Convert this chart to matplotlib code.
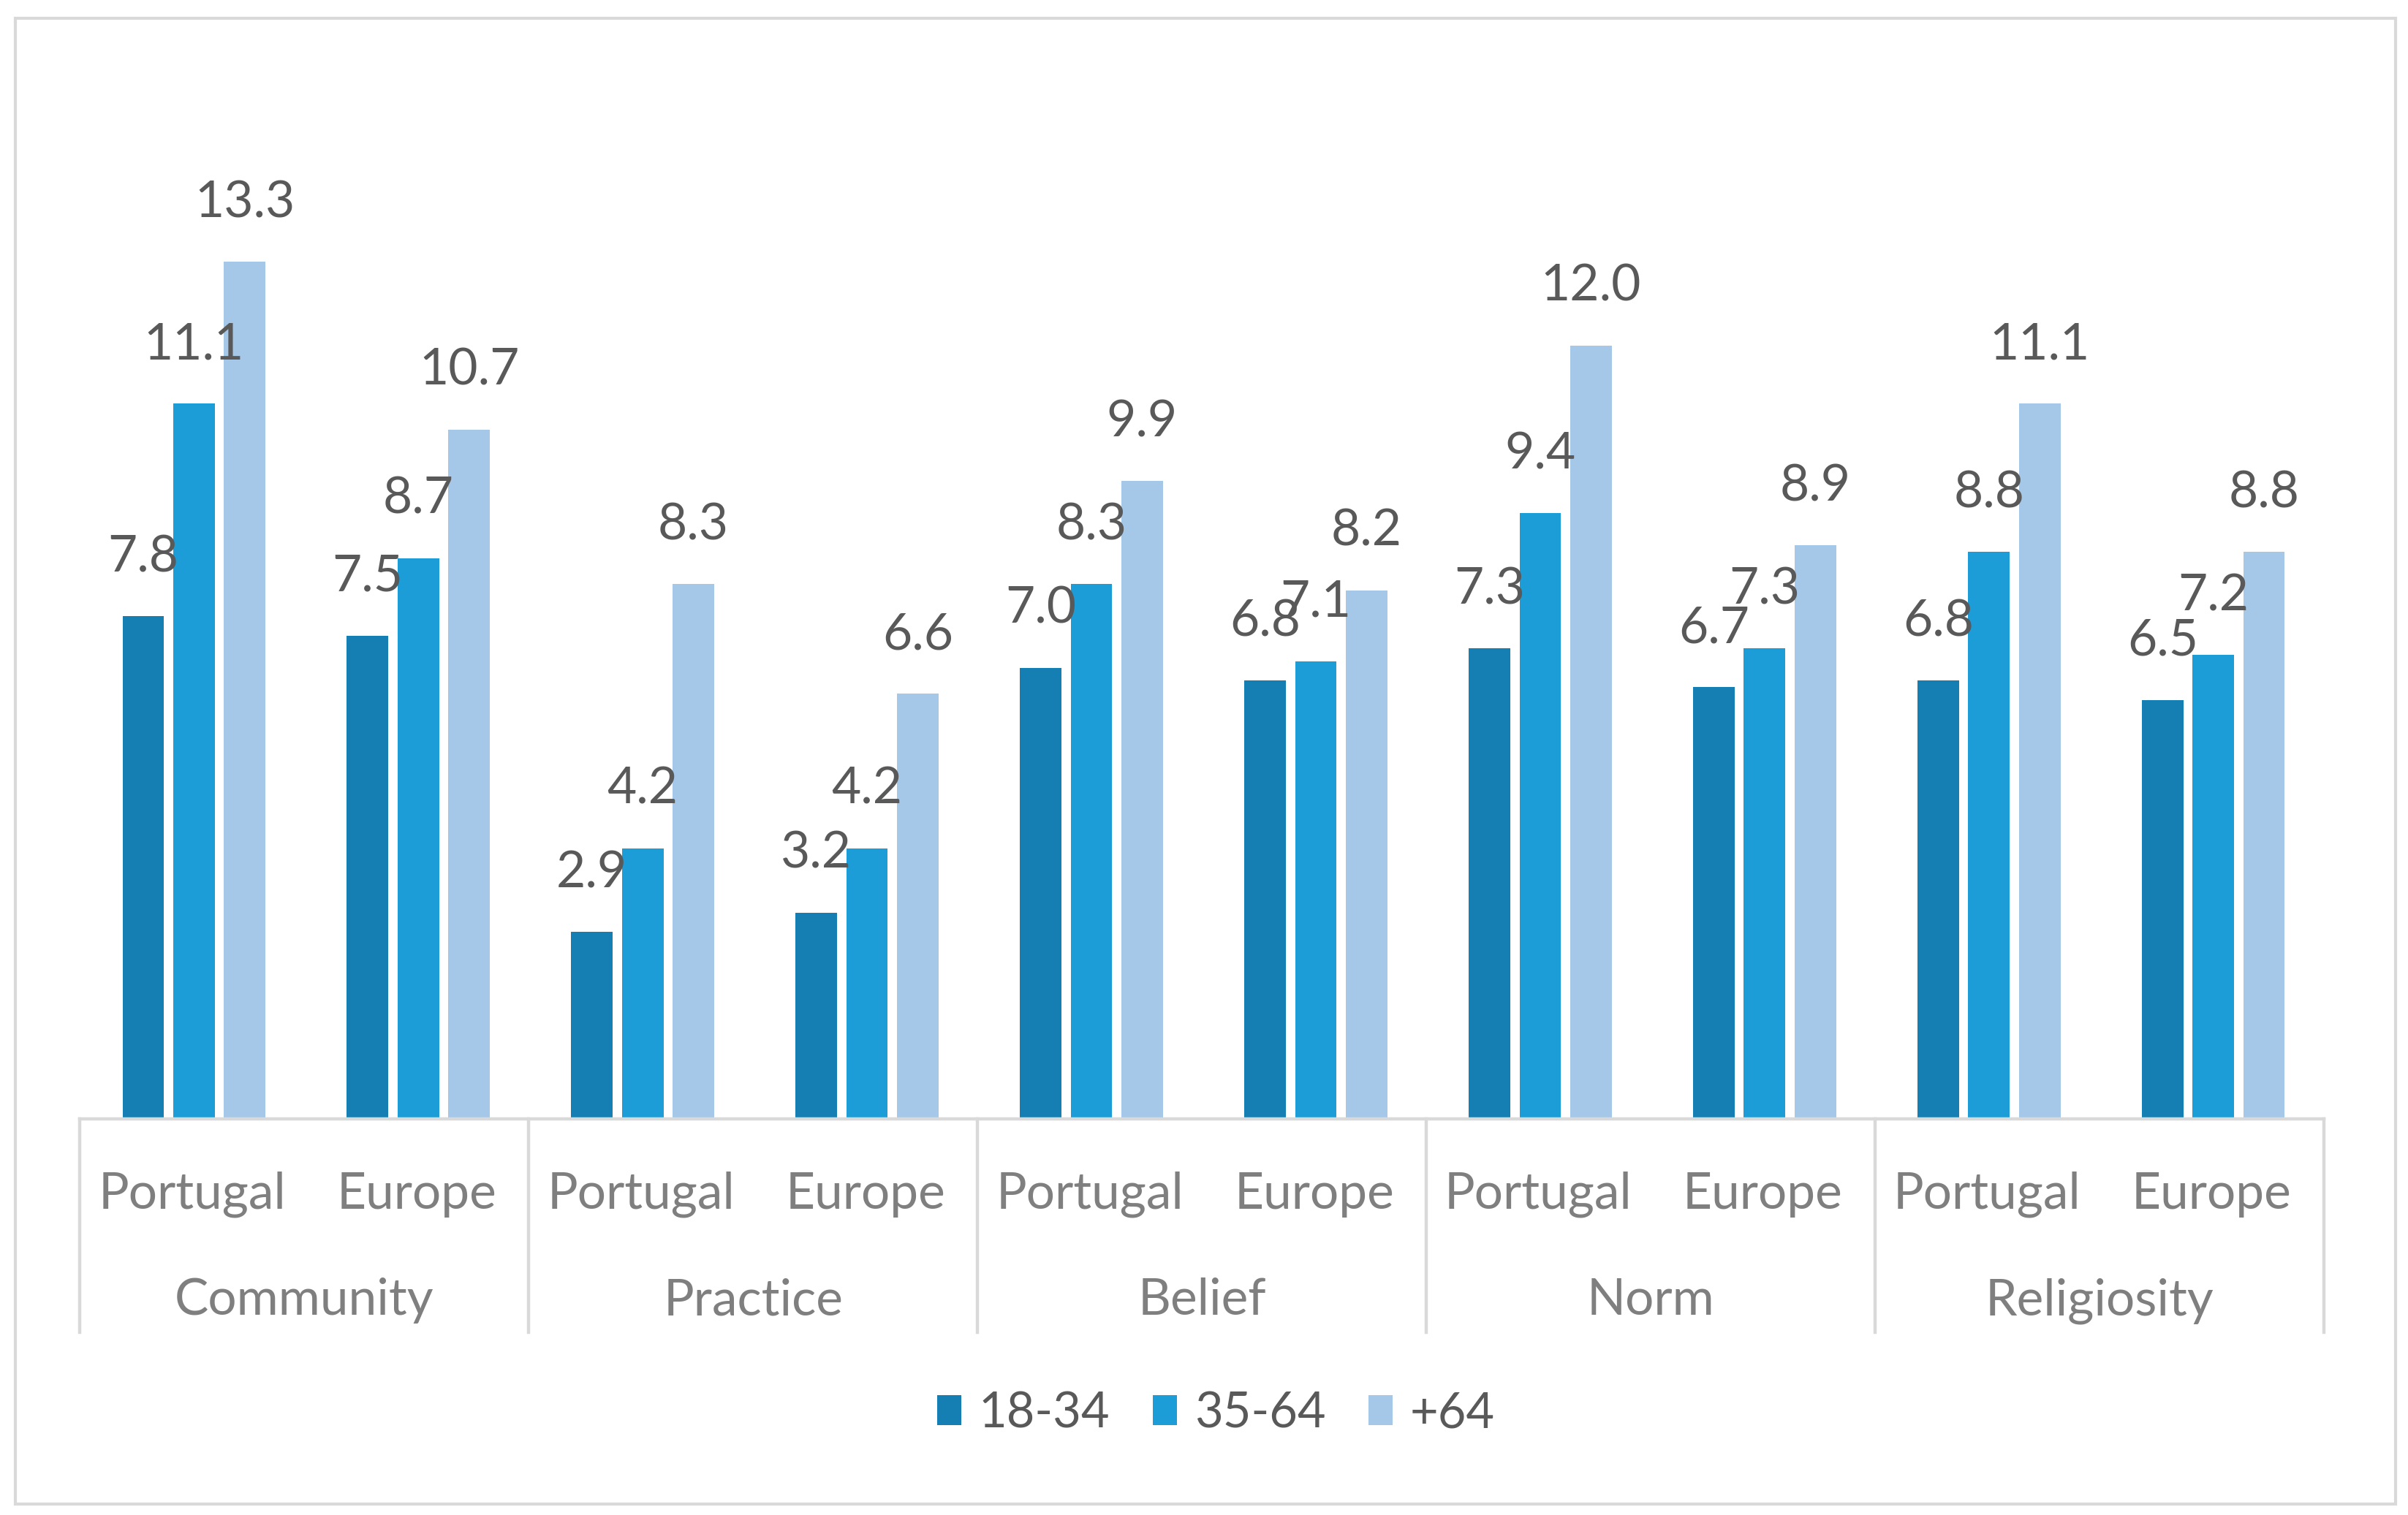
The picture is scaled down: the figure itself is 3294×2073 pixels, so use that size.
import numpy as np
import matplotlib.pyplot as plt
from matplotlib.patches import Rectangle

groups = ['Community', 'Practice', 'Belief', 'Norm', 'Religiosity']
regions = ['Portugal', 'Europe']
series = ['18-34', '35-64', '+64']
age_18_34 = [7.8, 7.5, 2.9, 3.2, 7.0, 6.8, 7.3, 6.7, 6.8, 6.5]
age_35_64 = [11.1, 8.7, 4.2, 4.2, 8.3, 7.1, 9.4, 7.3, 8.8, 7.2]
age_64 = [13.3, 10.7, 8.3, 6.6, 9.9, 8.2, 12.0, 8.9, 11.1, 8.8]
colors = ['#157FB3', '#1D9DD8', '#A5C7E8']

plt.rcParams['font.family'] = ['Lato', 'DejaVu Sans']
grid = '#D9D9D9'
fs = 25

fig = plt.figure(figsize=(16.47, 10.365), dpi=200)
ax = fig.add_axes([0.0332, 0.2614, 0.9318, 0.6806])

x = np.arange(len(age_18_34))
step = 0.226
width = 0.185
for i, (vals, col) in enumerate(zip([age_18_34, age_35_64, age_64], colors)):
    pos = x + 0.008 + (i - 1) * step
    ax.bar(pos, vals, width, color=col, label=series[i])
    for px, v in zip(pos, vals):
        ax.annotate(f'{v:.1f}', (px, v), xytext=(0, 29), textcoords='offset points',
                    ha='center', va='center', fontsize=fs, color='#595959')

ax.set_xlim(-0.5, 9.5)
ax.set_ylim(0, 16)
ax.set_yticks([])
ax.set_xticks([])
for s in ['top', 'left', 'right']:
    ax.spines[s].set_visible(False)
ax.spines['bottom'].set_color(grid)
ax.spines['bottom'].set_linewidth(1.6)

trans = ax.get_xaxis_transform()
for i in range(len(x)):
    ax.text(i, -0.0870, regions[i % 2], transform=trans, ha='center', va='baseline',
            fontsize=fs, color='#7F7F7F')
for g, name in enumerate(groups):
    ax.text(2 * g + 0.5, -0.190, name, transform=trans, ha='center', va='baseline',
            fontsize=fs, color='#7F7F7F')
for b in np.arange(-0.5, 10, 2):
    ax.plot([b, b], [0, -0.2068], transform=trans, color=grid, lw=1.6, clip_on=False)

fig.legend(loc='center', bbox_to_anchor=(0.505, 0.0669), ncol=3, frameon=False,
           fontsize=24, labelcolor='#595959', handlelength=0.5, handleheight=0.57,
           handletextpad=0.35, columnspacing=0.88)

fig.patches.append(Rectangle((0.0064, 0.0071), 0.9885, 0.9807, transform=fig.transFigure,
                             fill=False, edgecolor=grid, lw=1.5))

fig.savefig('out.png', dpi=200, facecolor='white')
